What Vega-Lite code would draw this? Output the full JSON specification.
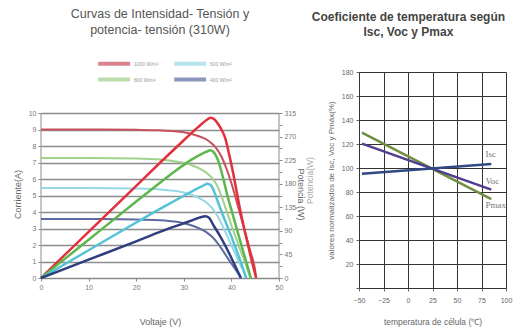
{
  "$schema": "https://vega.github.io/schema/vega-lite/v6.json",
  "background": "white",
  "padding": {"left": 13, "top": 7, "right": 10, "bottom": 2},
  "config": {
    "view": {"stroke": null},
    "font": "Liberation Sans",
    "concat": {"spacing": 0},
    "axis": {"labelFont": "Liberation Sans", "titleFont": "Liberation Sans", "titleFontWeight": "normal", "labelOverlap": false, "labelFlush": false}
  },
  "datasets": {
    "iv": [
      {"irr": "1000 W/m²", "v": 0, "i": 9.0}, {"irr": "1000 W/m²", "v": 10, "i": 9.0}, {"irr": "1000 W/m²", "v": 20, "i": 8.98}, {"irr": "1000 W/m²", "v": 25, "i": 8.95}, {"irr": "1000 W/m²", "v": 28, "i": 8.9}, {"irr": "1000 W/m²", "v": 30, "i": 8.83}, {"irr": "1000 W/m²", "v": 32, "i": 8.7}, {"irr": "1000 W/m²", "v": 34, "i": 8.5}, {"irr": "1000 W/m²", "v": 35, "i": 8.35}, {"irr": "1000 W/m²", "v": 36, "i": 8.12}, {"irr": "1000 W/m²", "v": 37, "i": 7.8}, {"irr": "1000 W/m²", "v": 38, "i": 7.3}, {"irr": "1000 W/m²", "v": 39, "i": 6.6}, {"irr": "1000 W/m²", "v": 40, "i": 5.75}, {"irr": "1000 W/m²", "v": 41, "i": 4.75}, {"irr": "1000 W/m²", "v": 42, "i": 3.7}, {"irr": "1000 W/m²", "v": 43, "i": 2.65}, {"irr": "1000 W/m²", "v": 44, "i": 1.6}, {"irr": "1000 W/m²", "v": 45, "i": 0.45}, {"irr": "1000 W/m²", "v": 45.2, "i": 0},
      {"irr": "800 W/m²", "v": 0, "i": 7.28}, {"irr": "800 W/m²", "v": 10, "i": 7.28}, {"irr": "800 W/m²", "v": 20, "i": 7.25}, {"irr": "800 W/m²", "v": 25, "i": 7.18}, {"irr": "800 W/m²", "v": 28, "i": 7.08}, {"irr": "800 W/m²", "v": 30, "i": 6.98}, {"irr": "800 W/m²", "v": 32, "i": 6.8}, {"irr": "800 W/m²", "v": 34, "i": 6.52}, {"irr": "800 W/m²", "v": 35, "i": 6.32}, {"irr": "800 W/m²", "v": 36, "i": 6.05}, {"irr": "800 W/m²", "v": 37, "i": 5.6}, {"irr": "800 W/m²", "v": 38, "i": 4.9}, {"irr": "800 W/m²", "v": 39, "i": 4.05}, {"irr": "800 W/m²", "v": 40, "i": 3.2}, {"irr": "800 W/m²", "v": 41, "i": 2.4}, {"irr": "800 W/m²", "v": 42, "i": 1.6}, {"irr": "800 W/m²", "v": 43, "i": 0.85}, {"irr": "800 W/m²", "v": 43.9, "i": 0.1}, {"irr": "800 W/m²", "v": 44.1, "i": 0},
      {"irr": "600 W/m²", "v": 0, "i": 5.45}, {"irr": "600 W/m²", "v": 10, "i": 5.45}, {"irr": "600 W/m²", "v": 20, "i": 5.42}, {"irr": "600 W/m²", "v": 25, "i": 5.37}, {"irr": "600 W/m²", "v": 28, "i": 5.28}, {"irr": "600 W/m²", "v": 30, "i": 5.18}, {"irr": "600 W/m²", "v": 32, "i": 5.0}, {"irr": "600 W/m²", "v": 34, "i": 4.72}, {"irr": "600 W/m²", "v": 35, "i": 4.52}, {"irr": "600 W/m²", "v": 36, "i": 4.22}, {"irr": "600 W/m²", "v": 37, "i": 3.8}, {"irr": "600 W/m²", "v": 38, "i": 3.25}, {"irr": "600 W/m²", "v": 39, "i": 2.62}, {"irr": "600 W/m²", "v": 40, "i": 1.98}, {"irr": "600 W/m²", "v": 41, "i": 1.35}, {"irr": "600 W/m²", "v": 42, "i": 0.72}, {"irr": "600 W/m²", "v": 43, "i": 0.12}, {"irr": "600 W/m²", "v": 43.1, "i": 0},
      {"irr": "400 W/m²", "v": 0, "i": 3.57}, {"irr": "400 W/m²", "v": 10, "i": 3.57}, {"irr": "400 W/m²", "v": 20, "i": 3.55}, {"irr": "400 W/m²", "v": 25, "i": 3.5}, {"irr": "400 W/m²", "v": 28, "i": 3.42}, {"irr": "400 W/m²", "v": 30, "i": 3.32}, {"irr": "400 W/m²", "v": 32, "i": 3.15}, {"irr": "400 W/m²", "v": 34, "i": 2.9}, {"irr": "400 W/m²", "v": 35, "i": 2.72}, {"irr": "400 W/m²", "v": 36, "i": 2.48}, {"irr": "400 W/m²", "v": 37, "i": 2.15}, {"irr": "400 W/m²", "v": 38, "i": 1.75}, {"irr": "400 W/m²", "v": 39, "i": 1.3}, {"irr": "400 W/m²", "v": 40, "i": 0.88}, {"irr": "400 W/m²", "v": 41, "i": 0.45}, {"irr": "400 W/m²", "v": 42, "i": 0}
    ],
    "pv": [
      {"irr": "1000 W/m²", "v": 0, "p": 0}, {"irr": "1000 W/m²", "v": 10, "p": 88}, {"irr": "1000 W/m²", "v": 20, "p": 176}, {"irr": "1000 W/m²", "v": 25, "p": 220}, {"irr": "1000 W/m²", "v": 30, "p": 263}, {"irr": "1000 W/m²", "v": 32, "p": 280}, {"irr": "1000 W/m²", "v": 34, "p": 296}, {"irr": "1000 W/m²", "v": 35, "p": 303}, {"irr": "1000 W/m²", "v": 35.6, "p": 306}, {"irr": "1000 W/m²", "v": 36.4, "p": 303}, {"irr": "1000 W/m²", "v": 37.2, "p": 294}, {"irr": "1000 W/m²", "v": 38, "p": 282}, {"irr": "1000 W/m²", "v": 38.7, "p": 267}, {"irr": "1000 W/m²", "v": 39.5, "p": 237}, {"irr": "1000 W/m²", "v": 40.4, "p": 199}, {"irr": "1000 W/m²", "v": 41, "p": 170}, {"irr": "1000 W/m²", "v": 42, "p": 123}, {"irr": "1000 W/m²", "v": 43, "p": 82}, {"irr": "1000 W/m²", "v": 44, "p": 43}, {"irr": "1000 W/m²", "v": 45.2, "p": 0},
      {"irr": "800 W/m²", "v": 0, "p": 0}, {"irr": "800 W/m²", "v": 10, "p": 73}, {"irr": "800 W/m²", "v": 20, "p": 146}, {"irr": "800 W/m²", "v": 25, "p": 182}, {"irr": "800 W/m²", "v": 28, "p": 203}, {"irr": "800 W/m²", "v": 30, "p": 216}, {"irr": "800 W/m²", "v": 32, "p": 228}, {"irr": "800 W/m²", "v": 34, "p": 238}, {"irr": "800 W/m²", "v": 35, "p": 242}, {"irr": "800 W/m²", "v": 35.5, "p": 244}, {"irr": "800 W/m²", "v": 36.2, "p": 241}, {"irr": "800 W/m²", "v": 37, "p": 229}, {"irr": "800 W/m²", "v": 37.7, "p": 210}, {"irr": "800 W/m²", "v": 38.4, "p": 186}, {"irr": "800 W/m²", "v": 39, "p": 163}, {"irr": "800 W/m²", "v": 40, "p": 130}, {"irr": "800 W/m²", "v": 41, "p": 98}, {"irr": "800 W/m²", "v": 42, "p": 66}, {"irr": "800 W/m²", "v": 43, "p": 34}, {"irr": "800 W/m²", "v": 44.1, "p": 0},
      {"irr": "600 W/m²", "v": 0, "p": 0}, {"irr": "600 W/m²", "v": 10, "p": 53}, {"irr": "600 W/m²", "v": 20, "p": 106}, {"irr": "600 W/m²", "v": 25, "p": 132}, {"irr": "600 W/m²", "v": 28, "p": 147}, {"irr": "600 W/m²", "v": 30, "p": 157}, {"irr": "600 W/m²", "v": 32, "p": 167}, {"irr": "600 W/m²", "v": 34, "p": 176}, {"irr": "600 W/m²", "v": 35, "p": 180}, {"irr": "600 W/m²", "v": 35.8, "p": 176}, {"irr": "600 W/m²", "v": 36.5, "p": 162}, {"irr": "600 W/m²", "v": 37.3, "p": 142}, {"irr": "600 W/m²", "v": 38, "p": 125}, {"irr": "600 W/m²", "v": 39, "p": 102}, {"irr": "600 W/m²", "v": 40, "p": 79}, {"irr": "600 W/m²", "v": 41, "p": 55}, {"irr": "600 W/m²", "v": 42, "p": 30}, {"irr": "600 W/m²", "v": 43.1, "p": 0},
      {"irr": "400 W/m²", "v": 0, "p": 0}, {"irr": "400 W/m²", "v": 10, "p": 35}, {"irr": "400 W/m²", "v": 20, "p": 70}, {"irr": "400 W/m²", "v": 25, "p": 88}, {"irr": "400 W/m²", "v": 28, "p": 98}, {"irr": "400 W/m²", "v": 30, "p": 104.5}, {"irr": "400 W/m²", "v": 32, "p": 111}, {"irr": "400 W/m²", "v": 33.5, "p": 116}, {"irr": "400 W/m²", "v": 34.5, "p": 118}, {"irr": "400 W/m²", "v": 35.3, "p": 115}, {"irr": "400 W/m²", "v": 36.2, "p": 101}, {"irr": "400 W/m²", "v": 37.5, "p": 82}, {"irr": "400 W/m²", "v": 38.7, "p": 62}, {"irr": "400 W/m²", "v": 39.8, "p": 42}, {"irr": "400 W/m²", "v": 40.8, "p": 23}, {"irr": "400 W/m²", "v": 42, "p": 0}
    ],
    "frame": [
      {"v": 0, "i0": 0, "i1": 10},
      {"v": 50, "i0": 0, "i1": 10}
    ],
    "temp": [
      {"s": "Pmax", "t": -47, "val": 129.4}, {"s": "Pmax", "t": 85, "val": 74},
      {"s": "Voc", "t": -47, "val": 120.3}, {"s": "Voc", "t": 85, "val": 82},
      {"s": "Isc", "t": -47, "val": 95.3}, {"s": "Isc", "t": 85, "val": 103.3}
    ],
    "tlab": [
      {"s": "Isc", "t": 79, "val": 112},
      {"s": "Voc", "t": 79, "val": 89},
      {"s": "Pmax", "t": 79, "val": 69}
    ]
  },
  "hconcat": [
    {
      "width": 238,
      "height": 206,
      "title": {"text": ["Curvas de Intensidad- Tensión y", "potencia- tensión  (310W)"], "fontSize": 12.5, "fontWeight": "normal", "color": "#555555", "lineHeight": 16, "offset": 20, "anchor": "middle", "frame": "group"},
      "layer": [
        {
          "data": {"name": "frame"},
          "mark": {"type": "rule", "color": "#8c8c8c", "strokeWidth": 1},
          "encoding": {
            "x": {"field": "v", "type": "quantitative", "scale": {"domain": [0, 50], "nice": false},
              "axis": {"values": [0, 5, 10, 15, 20, 25, 30, 35, 40, 45, 50], "title": "Voltaje (V)", "grid": false, "domainColor": "#888888", "tickColor": "#888888", "tickSize": 3, "labelFontSize": 7, "labelColor": "#777777", "labelPadding": 2, "titleFontSize": 9, "titleColor": "#666666", "titlePadding": 27}},
            "y": {"field": "i0", "type": "quantitative", "scale": {"domain": [0, 12.485], "nice": false}, "axis": null},
            "y2": {"field": "i1"}
          }
        },
        {
          "data": {"name": "iv"},
          "mark": {"type": "line", "strokeWidth": 2, "interpolate": "monotone"},
          "encoding": {
            "x": {"field": "v", "type": "quantitative"},
            "y": {"field": "i", "type": "quantitative", "scale": {"domain": [0, 12.485], "nice": false},
              "axis": {"values": [0, 1, 2, 3, 4, 5, 6, 7, 8, 9, 10], "title": "Corriente(A)", "titleY": 122, "grid": true, "gridColor": "#8c8c8c", "gridWidth": 1.3, "domain": false, "tickColor": "#888888", "tickSize": 3, "labelFontSize": 7, "labelColor": "#777777", "labelPadding": 2, "titleFontSize": 9, "titleColor": "#666666", "titlePadding": 6}},
            "color": {"field": "irr", "type": "nominal",
              "scale": {"domain": ["1000 W/m²", "600 W/m²", "800 W/m²", "400 W/m²"], "range": ["#c8505f", "#98d8e6", "#9fd28a", "#5d6ba0"]},
              "legend": {"orient": "none", "legendX": 55, "legendY": -16, "padding": 0, "columns": 2, "direction": "horizontal", "title": null, "symbolType": "M-1,0H5", "symbolStrokeWidth": 4, "symbolSize": 113, "symbolOpacity": 0.7, "labelFontSize": 5, "labelColor": "#999999", "labelOffset": 23, "columnPadding": 7, "rowPadding": -2}}
          }
        },
        {
          "data": {"name": "pv"},
          "mark": {"type": "line", "strokeWidth": 2.5, "interpolate": "monotone"},
          "encoding": {
            "x": {"field": "v", "type": "quantitative"},
            "y": {"field": "p", "type": "quantitative", "scale": {"domain": [0, 393.3], "nice": false},
              "axis": {"orient": "right", "values": [0, 22.5, 45, 67.5, 90, 112.5, 135, 157.5, 180, 202.5, 225, 247.5, 270, 292.5, 315], "labelExpr": "datum.value % 45 == 0 ? datum.label : ''", "title": "Potencia (W)", "titleY": 122, "grid": false, "domain": false, "tickColor": "#888888", "tickSize": 3, "labelFontSize": 7, "labelColor": "#777777", "labelPadding": 2, "titleFontSize": 9, "titleColor": "#666666", "titlePadding": 0}},
            "color": {"field": "irr", "type": "nominal",
              "scale": {"domain": ["1000 W/m²", "600 W/m²", "800 W/m²", "400 W/m²"], "range": ["#e2303c", "#55c3d6", "#5cb84c", "#2e3f7f"]},
              "legend": null}
          }
        }
      ],
      "resolve": {"scale": {"y": "independent", "color": "independent"}}
    },
    {
      "width": 147,
      "height": 216,
      "title": {"text": ["Coeficiente de temperatura según", "Isc, Voc y Pmax"], "fontSize": 12, "fontWeight": "bold", "color": "#444444", "lineHeight": 15, "offset": 29, "anchor": "middle", "frame": "bounds"},
      "layer": [
        {
          "data": {"name": "temp"},
          "mark": {"type": "line", "strokeWidth": 2.5},
          "encoding": {
            "x": {"field": "t", "type": "quantitative", "scale": {"domain": [-50, 100], "nice": false},
              "axis": {"values": [-50, -25, 0, 25, 50, 75, 100], "labelOverlap": false, "labelBound": false, "labelFlush": false, "title": "temperatura de célula (℃)", "grid": true, "gridColor": "#333333", "gridWidth": 1, "domainColor": "#333333", "tickColor": "#666666", "tickSize": 3, "labelFontSize": 7, "labelColor": "#666666", "labelPadding": 5, "titleFontSize": 8.5, "titleColor": "#666666", "titlePadding": 14}},
            "y": {"field": "val", "type": "quantitative", "scale": {"domain": [0, 180], "nice": false},
              "axis": {"values": [0, 20, 40, 60, 80, 100, 120, 140, 160, 180], "labelExpr": "datum.value == 0 ? '' : datum.label", "title": "valores normalizados de Isc, Voc y Pmáx(%)", "grid": true, "gridColor": "#333333", "gridWidth": 1, "domainColor": "#333333", "tickColor": "#666666", "tickSize": 3, "labelFontSize": 7, "labelColor": "#666666", "labelPadding": 3, "titleFontSize": 8, "titleColor": "#666666", "titlePadding": 6}},
            "color": {"field": "s", "type": "nominal", "scale": {"domain": ["Pmax", "Voc", "Isc"], "range": ["#6f8f3f", "#523d8e", "#2d4a82"]}, "legend": null}
          }
        },
        {
          "data": {"name": "tlab"},
          "mark": {"type": "text", "align": "left", "baseline": "middle", "font": "Liberation Serif", "fontSize": 9, "color": "#777777"},
          "encoding": {
            "x": {"field": "t", "type": "quantitative", "scale": {"domain": [-50, 100], "nice": false},
              "axis": {"values": [-50, -25, 0, 25, 50, 75, 100], "labelOverlap": false, "labelBound": false, "labelFlush": false, "title": "temperatura de célula (℃)", "grid": true, "gridColor": "#333333", "gridWidth": 1, "domainColor": "#333333", "tickColor": "#666666", "tickSize": 3, "labelFontSize": 7, "labelColor": "#666666", "labelPadding": 5, "titleFontSize": 8.5, "titleColor": "#666666", "titlePadding": 14}},
            "y": {"field": "val", "type": "quantitative", "scale": {"domain": [0, 180], "nice": false},
              "axis": {"orient": "left", "offset": 45, "labels": false, "ticks": false, "domain": false, "grid": false, "title": "Potencia(W)", "titleFontSize": 8.5, "titleColor": "#aaaaaa", "titleAngle": 270, "titlePadding": 0}},
            "text": {"field": "s"}
          }
        }
      ],
      "resolve": {"scale": {"y": "independent"}}
    }
  ]
}
